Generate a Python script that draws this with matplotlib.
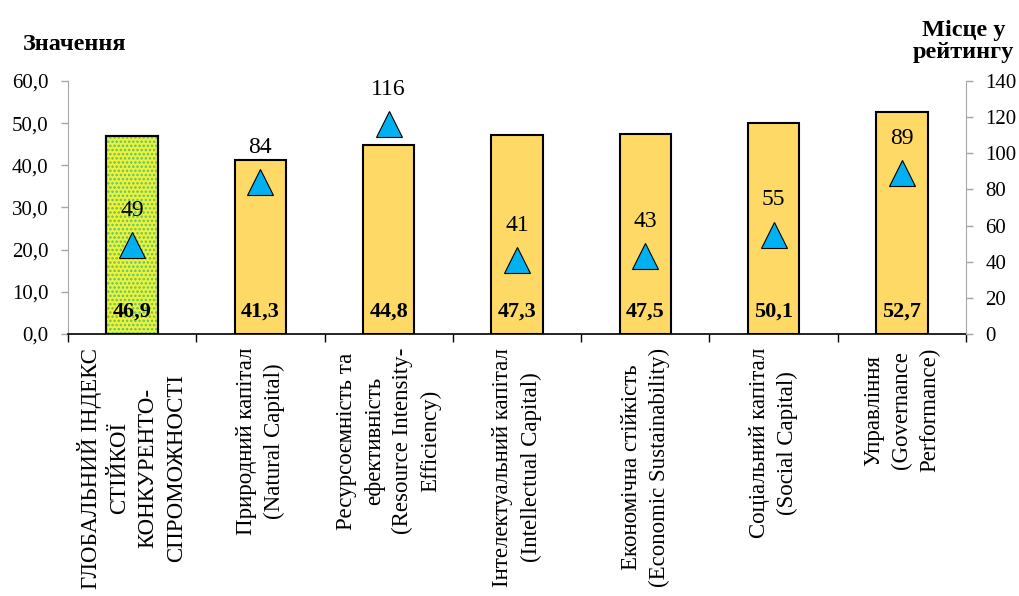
import matplotlib
matplotlib.use('Agg')
import matplotlib.pyplot as plt
from matplotlib.ticker import FuncFormatter, FixedLocator

plt.rcParams['font.family'] = ['Liberation Serif', 'DejaVu Serif']
plt.rcParams['hatch.linewidth'] = 1.2

categories = [
    'ГЛОБАЛЬНИЙ ІНДЕКС\nСТІЙКОЇ\nКОНКУРЕНТО-\nСПРОМОЖНОСТІ',
    'Природний капітал\n(Natural Capital)',
    'Ресурсоємність та\nефективність\n(Resource Intensity-\nEfficiency)',
    'Інтелектуальний капітал\n(Intellectual Capital)',
    'Економічна стійкість\n(Economic Sustainability)',
    'Соціальний капітал\n(Social Capital)',
    'Управління\n(Governance\nPerformance)',
]
values = [46.9, 41.3, 44.8, 47.3, 47.5, 50.1, 52.7]
ranks = [49, 84, 116, 41, 43, 55, 89]

BAR = '#FFD966'; FIRST = '#EEF23A'; DOTS = '#5CC36A'; TRI = '#00B0F0'; GRAY = '#A6A6A6'

fig = plt.figure(figsize=(10.19, 5.96), dpi=100)
ax = fig.add_axes([0.0667, 0.4396, 0.8813, 0.4245])
x = list(range(len(values)))

bars = ax.bar(x, values, width=0.4, color=BAR, edgecolor='black', linewidth=1.5, zorder=2)
bars[0].set_facecolor(FIRST)
# dotted fill of the first bar
ax.bar(x[:1], values[:1], width=0.4, color='none', edgecolor=DOTS, hatch='....',
       linewidth=0, zorder=2.5)
ax.bar(x[:1], values[:1], width=0.4, color='none', edgecolor='black', linewidth=1.5, zorder=3)

for xi, v in zip(x, values):
    ax.text(xi, 5.2, f'{v:.1f}'.replace('.', ','), ha='center', va='center',
            fontsize=16, fontweight='bold', zorder=4)

ax.set_xlim(-0.5, len(values) - 0.5)
ax.set_ylim(0, 60)
ax.set_yticks(range(0, 61, 10))
ax.yaxis.set_major_formatter(FuncFormatter(lambda v, p: f'{v:.1f}'.replace('.', ',')))
ax.tick_params(axis='y', labelsize=15, color=GRAY, length=5, width=1, pad=9)

ax.set_xticks(x)
ax.set_xticklabels(categories, rotation=90, ha='center', va='top',
                   multialignment='center', fontsize=16.5, linespacing=1.45)
ax.tick_params(axis='x', which='major', length=0, pad=10)
ax.xaxis.set_minor_locator(FixedLocator([i - 0.5 for i in range(len(values) + 1)]))
ax.tick_params(axis='x', which='minor', length=6, width=1, color='black', direction='out')

ax.spines['top'].set_visible(False)
ax.spines['left'].set_color(GRAY)
ax.spines['right'].set_visible(False)
ax.spines['bottom'].set_color('black')
ax.spines['bottom'].set_linewidth(1.2)

ax2 = ax.twinx()
ax2.set_ylim(0, 140)
ax2.set_yticks(range(0, 141, 20))
ax2.tick_params(axis='y', labelsize=15, color=GRAY, length=5, width=1, pad=9)
for s in ['top', 'left', 'bottom']:
    ax2.spines[s].set_visible(False)
ax2.spines['right'].set_color(GRAY)

ax2.plot(x, ranks, linestyle='none', marker='^', markersize=19, markerfacecolor=TRI,
         markeredgecolor='black', markeredgewidth=0.8, zorder=5)
for xi, r in zip(x, ranks):
    ax2.annotate(str(r), (xi, r), xytext=(0, 25), textcoords='offset points',
                 ha='center', va='center', fontsize=17)

fig.text(0.022, 0.925, 'Значення', fontsize=17.5, fontweight='bold', ha='left', va='center')
fig.text(0.995, 0.93, 'Місце у\nрейтингу', fontsize=17.5, fontweight='bold', ha='right',
         va='center', multialignment='center', linespacing=1.05)

fig.savefig('out.png', dpi=100)
